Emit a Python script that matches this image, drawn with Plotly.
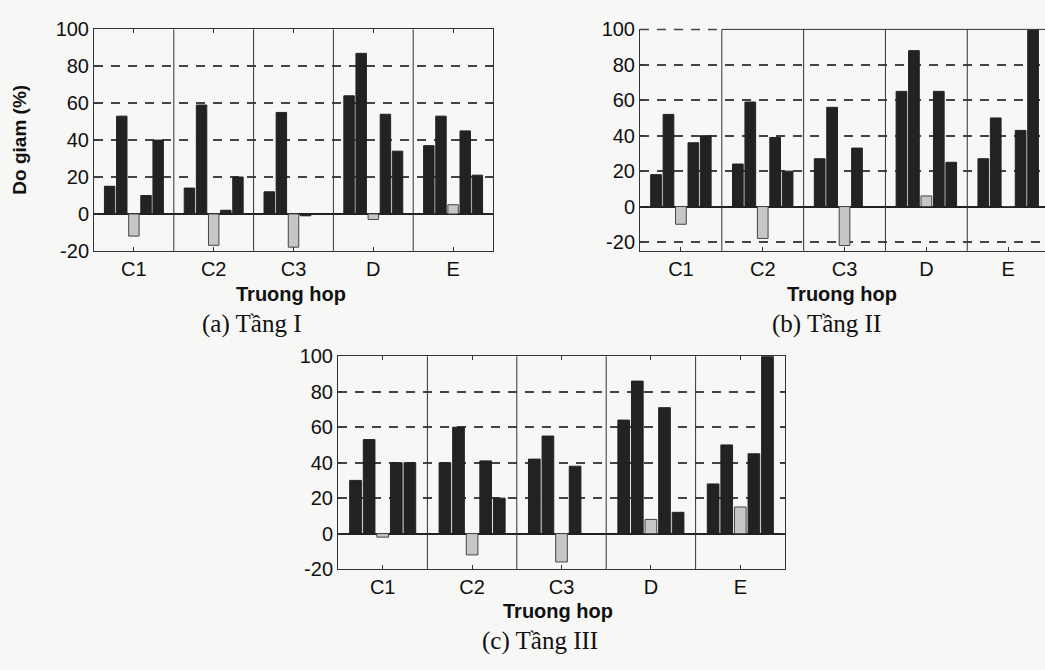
import plotly.graph_objects as go

W, H = 1045, 670

cases = ["C1", "C2", "C3", "D", "E"]

# Panel (a) Tang I
a_s1 = [15, 14, 12, 64, 37]
a_s2 = [53, 59, 55, 87, 53]
a_s3 = [-12, -17, -18, -3, 5]
a_s4 = [10, 2, -1, 54, 45]
a_s5 = [40, 20, 0, 34, 21]

# Panel (b) Tang II
b_s1 = [18, 24, 27, 65, 27]
b_s2 = [52, 59, 56, 88, 50]
b_s3 = [-10, -18, -22, 6, 0]
b_s4 = [36, 39, 33, 65, 43]
b_s5 = [40, 20, 0, 25, 100]

# Panel (c) Tang III
c_s1 = [30, 40, 42, 64, 28]
c_s2 = [53, 60, 55, 86, 50]
c_s3 = [-2, -12, -16, 8, 15]
c_s4 = [40, 41, 38, 71, 45]
c_s5 = [40, 20, 0, 12, 100]

ytick_vals = [-20, 0, 20, 40, 60, 80, 100]
ytick_text = ["-20", "0", "20", "40", "60", "80", "100"]

DARK = "#222222"
GRAY = "#c6c6c6"
BG = "#f7f7f5"
LINE = "#333333"

fig = go.Figure()

panels = [
    ("x", "y", [a_s1, a_s2, a_s3, a_s4, a_s5]),
    ("x2", "y2", [b_s1, b_s2, b_s3, b_s4, b_s5]),
    ("x3", "y3", [c_s1, c_s2, c_s3, c_s4, c_s5]),
]
for xa, ya, series in panels:
    for i, vals in enumerate(series):
        light = (i == 2)
        fig.add_trace(go.Bar(
            x=cases, y=vals, xaxis=xa, yaxis=ya,
            marker=dict(color=GRAY if light else DARK,
                        line=dict(color="#444" if light else DARK, width=1)),
            showlegend=False, hoverinfo="skip",
        ))

def px_x(p):
    return p / W

def px_y(p):
    return 1 - p / H

tickfont = dict(family="Liberation Sans, Arial, sans-serif", size=20, color="#111111")

common_x = dict(type="category", tickfont=tickfont, showline=True, linecolor=LINE,
                linewidth=1, ticks="inside", ticklen=4, tickcolor=LINE, showgrid=False,
                zeroline=False)
common_y = dict(tickfont=tickfont, showline=True, linecolor=LINE, linewidth=1,
                ticks="inside", ticklen=4, tickcolor=LINE, tickvals=ytick_vals,
                ticktext=ytick_text,
                showgrid=True, gridcolor="#444", gridwidth=1.5, griddash="9px,8px",
                zeroline=True, zerolinecolor="#222", zerolinewidth=1.5)

fig.update_layout(
    width=W, height=H,
    margin=dict(l=0, r=0, t=0, b=0),
    paper_bgcolor=BG, plot_bgcolor=BG,
    barmode="group", bargap=0.24, bargroupgap=0.14,
    xaxis=dict(common_x, domain=[px_x(94), px_x(493)], range=[-0.5, 4.5],
               anchor="y", mirror="ticks"),
    yaxis=dict(common_y, domain=[px_y(248), px_y(19)], range=[-20, 100],
               anchor="x", mirror="ticks"),
    xaxis2=dict(common_x, domain=[px_x(640), 1.0], range=[-0.5, 4.45],
                anchor="y2", mirror=False),
    yaxis2=dict(common_y, domain=[px_y(248), px_y(19)], range=[-25, 100],
                anchor="x2", mirror=False),
    xaxis3=dict(common_x, domain=[px_x(338), px_x(785)], range=[-0.5, 4.5],
                anchor="y3", mirror="ticks"),
    yaxis3=dict(common_y, domain=[px_y(577), px_y(357)], range=[-20, 100],
                anchor="x3", mirror="ticks"),
)

shapes = []
for xa, ya in [("x", "y"), ("x2", "y2"), ("x3", "y3")]:
    for d in [0.5, 1.5, 2.5, 3.5]:
        shapes.append(dict(type="line", xref=xa, yref=ya + " domain", x0=d, x1=d,
                           y0=0, y1=1, line=dict(color=LINE, width=1)))
# panel (b): top border only from the first divider on, dashed over C1
shapes.append(dict(type="line", xref="x2", yref="y2 domain", x0=0.5, x1=4.45,
                   y0=1, y1=1, line=dict(color=LINE, width=1)))
shapes.append(dict(type="line", xref="x2", yref="y2 domain", x0=-0.5, x1=0.5,
                   y0=1, y1=1, line=dict(color="#444", width=1.5, dash="9px,8px")))
fig.update_layout(shapes=shapes)

lab_font = dict(family="Liberation Sans, Arial, sans-serif", size=20, color="#111111")
cap_font = dict(family="Liberation Serif, Times New Roman, serif", size=25, color="#111111")

ann = [
    dict(text="<b>Truong hop</b>", x=px_x(291), y=px_y(293), font=lab_font),
    dict(text="(a) Tầng I", x=px_x(252), y=px_y(324), font=cap_font),
    dict(text="<b>Truong hop</b>", x=px_x(842), y=px_y(293), font=lab_font),
    dict(text="(b) Tầng II", x=px_x(826), y=px_y(324), font=cap_font),
    dict(text="<b>Truong hop</b>", x=px_x(558), y=px_y(620), font=lab_font),
    dict(text="(c) Tầng III", x=px_x(540), y=px_y(651), font=cap_font),
    dict(text="<b>Do giam (%)</b>", x=px_x(20), y=px_y(133), textangle=-90,
         font=dict(family="Liberation Sans, Arial, sans-serif", size=19, color="#111111")),
]
for a in ann:
    a.update(xref="paper", yref="paper", showarrow=False, xanchor="center", yanchor="middle")
fig.update_layout(annotations=ann)

fig.write_html("out.html")
